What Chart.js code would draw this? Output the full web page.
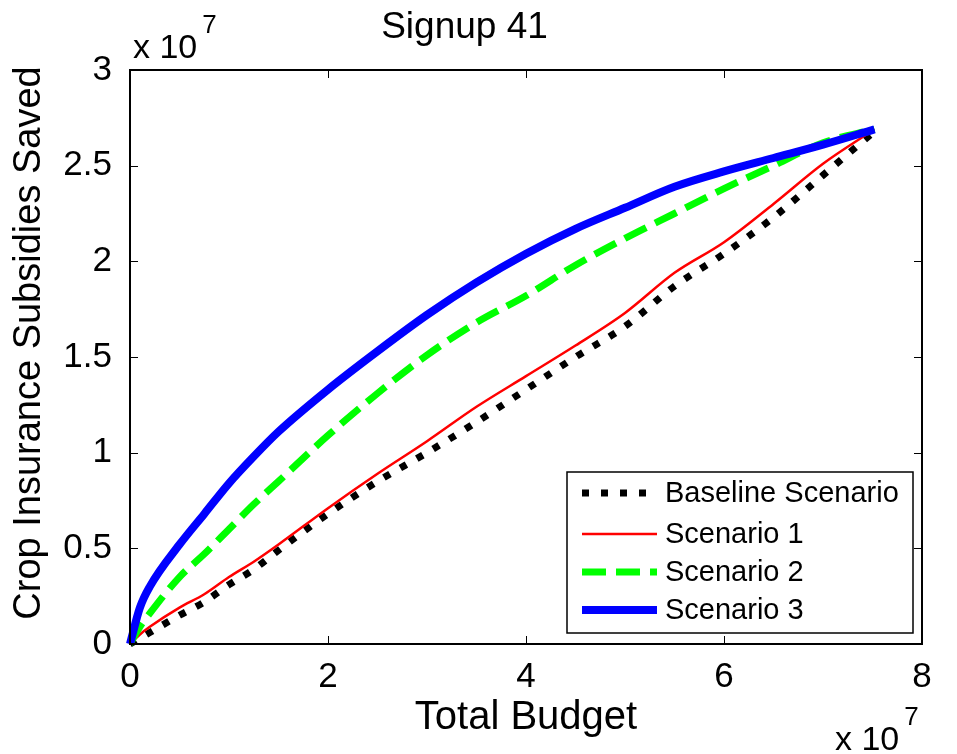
<!DOCTYPE html>
<html><head><meta charset="utf-8">
<script src="https://cdn.jsdelivr.net/npm/chart.js@4/dist/chart.umd.min.js"></script>
<style>html,body{margin:0;padding:0;background:#fff;overflow:hidden}canvas{display:block}</style>
</head><body>
<canvas id="c" width="957" height="754"></canvas>
<script>
// Values in units of 10^7
const budget           = [0, 0.1, 0.2, 0.5, 0.75, 1, 1.25, 1.5, 2, 2.5, 3, 3.5, 4, 4.5, 5, 5.5, 6, 6.5, 7, 7.52];
const baselineScenario = [0, 0.03, 0.06, 0.15, 0.22, 0.31, 0.39, 0.49, 0.68, 0.85, 1.00, 1.16, 1.33, 1.50, 1.66, 1.87, 2.04, 2.23, 2.45, 2.68];
const scenario1        = [0, 0.05, 0.09, 0.19, 0.26, 0.35, 0.43, 0.52, 0.71, 0.89, 1.06, 1.24, 1.40, 1.56, 1.73, 1.94, 2.10, 2.30, 2.51, 2.69];
const scenario2        = [0, 0.09, 0.16, 0.35, 0.47, 0.60, 0.73, 0.85, 1.09, 1.31, 1.51, 1.68, 1.82, 1.98, 2.12, 2.25, 2.38, 2.50, 2.62, 2.69];
const scenario3        = [0, 0.19, 0.30, 0.52, 0.68, 0.84, 0.98, 1.11, 1.33, 1.53, 1.72, 1.89, 2.04, 2.17, 2.28, 2.39, 2.47, 2.54, 2.61, 2.69];
const seriesNames = ['Baseline Scenario', 'Scenario 1', 'Scenario 2', 'Scenario 3'];
const xTickValues = [0, 2, 4, 6, 8];
const xTickLabels = ['0', '2', '4', '6', '8'];
const yTickValues = [0, 0.5, 1, 1.5, 2, 2.5, 3];
const yTickLabels = ['0', '0.5', '1', '1.5', '2', '2.5', '3'];
const exponent = '7';
const titleText = 'Signup 41';
const xTitle = 'Total Budget';
const yTitle = 'Crop Insurance Subsidies Saved';

const FONT = '"Liberation Sans", Arial, Helvetica, sans-serif';
const seriesValues = [baselineScenario, scenario1, scenario2, scenario3];
const styles = [
  { color: '#000000', width: 7, dash: [7, 12], order: 3 },
  { color: '#ff0000', width: 2.5, dash: [], order: 2 },
  { color: '#00ff00', width: 7, dash: [24, 10], order: 1 },
  { color: '#0000ff', width: 8, dash: [], order: 0 }
];

const datasets = seriesNames.map((name, i) => ({
  label: name,
  data: budget.map((b, k) => ({ x: b, y: seriesValues[i][k] })),
  borderColor: styles[i].color,
  borderWidth: styles[i].width,
  borderDash: styles[i].dash,
  borderCapStyle: 'butt',
  borderJoinStyle: 'round',
  pointRadius: 0,
  cubicInterpolationMode: 'monotone',
  fill: false,
  clip: false,
  order: styles[i].order
}));

const framePlugin = {
  id: 'frame',
  afterDatasetsDraw(chart) {
    const { ctx, chartArea: a, scales: { x, y } } = chart;
    ctx.save();
    ctx.strokeStyle = '#000';
    ctx.lineWidth = 2;
    ctx.strokeRect(a.left, a.top, a.right - a.left, a.bottom - a.top);
    ctx.lineWidth = 1;
    const tl = 8;
    x.ticks.forEach(t => {
      const px = Math.round(x.getPixelForValue(t.value)) + 0.5;
      ctx.beginPath();
      ctx.moveTo(px, a.bottom); ctx.lineTo(px, a.bottom - tl);
      ctx.moveTo(px, a.top); ctx.lineTo(px, a.top + tl);
      ctx.stroke();
    });
    y.ticks.forEach(t => {
      const py = Math.round(y.getPixelForValue(t.value)) + 0.5;
      ctx.beginPath();
      ctx.moveTo(a.left, py); ctx.lineTo(a.left + tl, py);
      ctx.moveTo(a.right, py); ctx.lineTo(a.right - tl, py);
      ctx.stroke();
    });
    ctx.restore();
  },
  afterDraw(chart) {
    const { ctx, chartArea: a } = chart;
    ctx.save();
    ctx.fillStyle = '#000';
    // y axis title
    ctx.save();
    ctx.translate(30, (a.top + a.bottom) / 2 - 14);
    ctx.rotate(-Math.PI / 2);
    ctx.font = '38px ' + FONT;
    ctx.textAlign = 'center';
    ctx.textBaseline = 'middle';
    ctx.fillText(yTitle, 0, 0);
    ctx.restore();

    // exponent labels
    ctx.textBaseline = 'alphabetic';
    ctx.textAlign = 'left';
    const drawExp = (x0, yb) => {
      ctx.font = '34px ' + FONT;
      ctx.fillText('x 10', x0, yb);
      const w = ctx.measureText('x 10').width;
      ctx.font = '26px ' + FONT;
      ctx.fillText(exponent, x0 + w + 5, yb - 25);
    };
    drawExp(a.left + 3, a.top - 12);
    drawExp(a.right - 87, 750);

    // legend
    const bx = a.right - 355, by = a.bottom - 172, bw = 346, bh = 161;
    ctx.fillStyle = '#fff';
    ctx.fillRect(bx, by, bw, bh);
    ctx.strokeStyle = '#000';
    ctx.lineWidth = 1.5;
    ctx.strokeRect(bx, by, bw, bh);
    const rowY = [21, 62, 100, 138];
    chart.data.datasets.forEach((ds, i) => {
      const yy = by + rowY[i];
      ctx.beginPath();
      ctx.strokeStyle = ds.borderColor;
      ctx.lineWidth = ds.borderWidth;
      ctx.setLineDash(ds.borderDash);
      ctx.lineCap = 'butt';
      ctx.moveTo(bx + 15, yy);
      ctx.lineTo(bx + 90, yy);
      ctx.stroke();
      ctx.setLineDash([]);
      ctx.fillStyle = '#000';
      ctx.font = '29px ' + FONT;
      ctx.textBaseline = 'middle';
      ctx.fillText(ds.label, bx + 98, yy + 1);
    });
    ctx.restore();
  }
};

new Chart(document.getElementById('c'), {
  type: 'line',
  data: { datasets },
  options: {
    responsive: false,
    devicePixelRatio: 1,
    animation: false,
    layout: { padding: { left: 7, right: 35, top: 0, bottom: 8 } },
    plugins: {
      legend: { display: false },
      tooltip: { enabled: false },
      title: {
        display: true,
        text: titleText,
        color: '#000',
        font: { family: FONT, size: 37, weight: 'normal', lineHeight: 1.2 },
        padding: { top: 6, bottom: 19.6 }
      }
    },
    scales: {
      x: {
        type: 'linear',
        min: 0, max: 8,
        afterBuildTicks: s => { s.ticks = xTickValues.map(v => ({ value: v })); },
        afterFit: s => { s.height = 102; },
        grid: { display: false },
        border: { display: false },
        ticks: {
          color: '#000',
          font: { family: FONT, size: 35 },
          padding: 4,
          maxRotation: 0,
          callback: v => xTickLabels[xTickValues.indexOf(v)]
        },
        title: {
          display: true, text: xTitle, color: '#000',
          font: { family: FONT, size: 40 },
          padding: { top: 0, bottom: 4 }
        }
      },
      y: {
        type: 'linear',
        min: 0, max: 3,
        afterBuildTicks: s => { s.ticks = yTickValues.map(v => ({ value: v })); },
        afterFit: s => { s.width = 123; },
        grid: { display: false },
        border: { display: false },
        ticks: {
          color: '#000',
          font: { family: FONT, size: 35 },
          padding: 10,
          callback: v => yTickLabels[yTickValues.indexOf(v)]
        },
        title: { display: false }
      }
    }
  },
  plugins: [framePlugin]
});
</script>
</body></html>
